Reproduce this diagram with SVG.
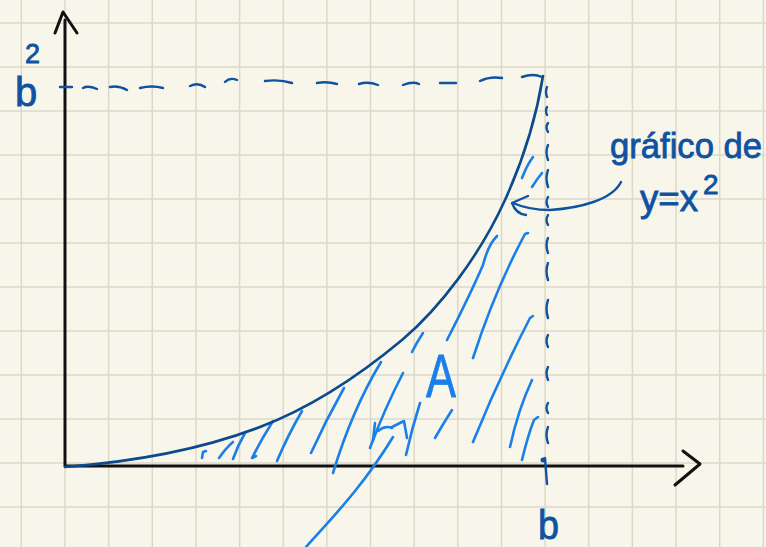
<svg xmlns="http://www.w3.org/2000/svg" width="766" height="547" viewBox="0 0 766 547">
<style>
.grid line{stroke:#dcd8c8;stroke-width:1.5}
.axis{fill:none;stroke:#111;stroke-width:3;stroke-linecap:round;stroke-linejoin:round}
.curve{fill:none;stroke:#0b4a8c;stroke-width:2.6;stroke-linecap:round}
.dash{fill:none;stroke:#0e52a2;stroke-width:2.4;stroke-linecap:round;stroke-linejoin:round}
.hatch{fill:none;stroke:#1a7fe8;stroke-width:2.6;stroke-linecap:round;stroke-linejoin:round}
.lbl{font-family:"Liberation Sans","DejaVu Sans",sans-serif;fill:#0e52a2;stroke:#0e52a2;stroke-width:0.8}
.lblA{font-family:"Liberation Sans","DejaVu Sans",sans-serif;fill:#1a7fe8;stroke:#1a7fe8;stroke-width:0.8}
</style>
<rect width="766" height="547" fill="#f8f6eb"/>
<g class="grid">
<line x1="21.3" y1="0" x2="21.3" y2="547"/><line x1="65" y1="0" x2="65" y2="547"/><line x1="108.6" y1="0" x2="108.6" y2="547"/><line x1="152.3" y1="0" x2="152.3" y2="547"/><line x1="195.9" y1="0" x2="195.9" y2="547"/><line x1="239.6" y1="0" x2="239.6" y2="547"/><line x1="283.2" y1="0" x2="283.2" y2="547"/><line x1="326.9" y1="0" x2="326.9" y2="547"/><line x1="370.5" y1="0" x2="370.5" y2="547"/><line x1="414.2" y1="0" x2="414.2" y2="547"/><line x1="457.8" y1="0" x2="457.8" y2="547"/><line x1="501.5" y1="0" x2="501.5" y2="547"/><line x1="545.1" y1="0" x2="545.1" y2="547"/><line x1="588.8" y1="0" x2="588.8" y2="547"/><line x1="632.4" y1="0" x2="632.4" y2="547"/><line x1="676.1" y1="0" x2="676.1" y2="547"/><line x1="719.7" y1="0" x2="719.7" y2="547"/><line x1="763.4" y1="0" x2="763.4" y2="547"/>
<line x1="0" y1="23" x2="766" y2="23"/><line x1="0" y1="67" x2="766" y2="67"/><line x1="0" y1="111" x2="766" y2="111"/><line x1="0" y1="155" x2="766" y2="155"/><line x1="0" y1="199" x2="766" y2="199"/><line x1="0" y1="243" x2="766" y2="243"/><line x1="0" y1="287" x2="766" y2="287"/><line x1="0" y1="331" x2="766" y2="331"/><line x1="0" y1="375" x2="766" y2="375"/><line x1="0" y1="419" x2="766" y2="419"/><line x1="0" y1="463" x2="766" y2="463"/><line x1="0" y1="507" x2="766" y2="507"/>
</g>
<g id="axes">
<path class="axis" d="M65,20 L65,466 L683,466"/>
<path class="axis" d="M55,33 L63,12 L77,33"/>
<path class="axis" d="M683,451 L700,464 L675,485"/>
</g>
<g id="hatching">
<path class="hatch" d="M202,458 L203,452 L206,451"/>
<path class="hatch" d="M219,458 Q226,448 233,442"/>
<path class="hatch" d="M233,459 Q238,445 245,433"/>
<path class="hatch" d="M256,456 L252,458 Q261,440 273,421"/>
<path class="hatch" d="M277,461 Q288,435 302,411"/>
<path class="hatch" d="M311,453 Q326,420 344,388"/>
<path class="hatch" d="M333,473 Q352,410 381,362"/>
<path class="hatch" d="M370,448 Q384,410 403,373"/>
<path class="hatch" d="M406,455 Q412,428 420,403"/>
<path class="hatch" d="M412,352 Q417,342 423,333"/>
<path class="hatch" d="M435,438 Q443,424 452,410"/>
<path class="hatch" d="M447,340 Q470,295 483,265 Q488,245 497,236"/>
<path class="hatch" d="M473,358 Q495,290 525,234 L528,233"/>
<path class="hatch" d="M473,442 Q498,380 530,318 L533,316"/>
<path class="hatch" d="M510,447 Q518,410 532,380"/>
<path class="hatch" d="M522,460 Q528,435 534,420 L538,417"/>
<path class="hatch" d="M522,178 Q527,165 533,157"/>
<path class="hatch" d="M532,187 Q537,179 542,173"/>
</g>
<g id="pointer-A">
<path class="hatch" d="M306,547 C330,520 362,488 393,437"/>
<path class="hatch" d="M375,423 L373,440"/>
<path class="hatch" d="M378,431 Q385,425 392,428"/>
<path class="hatch" d="M392,427 L404,421 L407,438"/>
</g>
<g id="graph">
<path class="curve" d="M65,467 C130,462 200,450 260,427 C310,408 360,375 402,340 C440,308 480,255 505,200 C520,167 535,125 543,76"/>
</g>
<g id="guides">
<path class="dash" d="M60,87 L72,87 M83,88 Q88,85 97,89 M110,87 Q118,85 127,90 M140,88 Q152,85 163,88 M190,86 Q198,82 205,87 M225,82 Q230,77 237,80 M265,81 Q280,79 292,83 M317,83 Q327,81 337,84 M359,84 Q368,81 378,85 M403,85 Q413,81 419,84 M440,83 L456,83 M480,81 Q490,76 502,78 M522,77 Q533,73 542,77"/>
<path class="dash" d="M547,87 Q545,92 547,97 M547,107 Q545,111 547,115 M548,123 Q545,127 548,132 M548,145 Q545,152 548,160 M548,170 Q545,178 548,187 M548,197 Q545,202 548,207 M548,215 Q545,220 548,225 M548,238 Q545,245 548,253 M548,263 Q545,271 548,280 M548,300 Q545,309 548,318 M548,335 Q545,341 548,347 M548,367 Q545,373 548,380 M548,403 Q545,408 548,413 M548,427 Q545,435 548,443"/>
<path class="dash" d="M543,460 L545,458 L547,484" stroke-width="3"/>
<circle cx="543" cy="460" r="2.5" fill="#0e52a2"/>
</g>
<g id="label-graph">
<path class="dash" d="M621,182 C612,200 580,208 550,210 C535,210 522,207 513,203"/>
<path class="dash" d="M528,196 L512,203 Q516,214 526,215"/>
<text class="lbl" x="610" y="158" font-size="35" textLength="152" lengthAdjust="spacingAndGlyphs">gráfico de</text>
<text class="lbl" x="640" y="211" font-size="36" textLength="58" lengthAdjust="spacingAndGlyphs">y=x</text>
<text class="lbl" x="703" y="194" font-size="28">2</text>
</g>
<g id="label-b2">
<text class="lbl" x="15" y="106" font-size="40">b</text>
<text class="lbl" x="25" y="63" font-size="27">2</text>
</g>
<g id="label-b">
<text class="lbl" x="538" y="539" font-size="40" textLength="21" lengthAdjust="spacingAndGlyphs">b</text>
</g>
<g id="label-A">
<text class="lblA" x="426" y="397" font-size="62" textLength="30" lengthAdjust="spacingAndGlyphs">A</text>
</g>
</svg>
